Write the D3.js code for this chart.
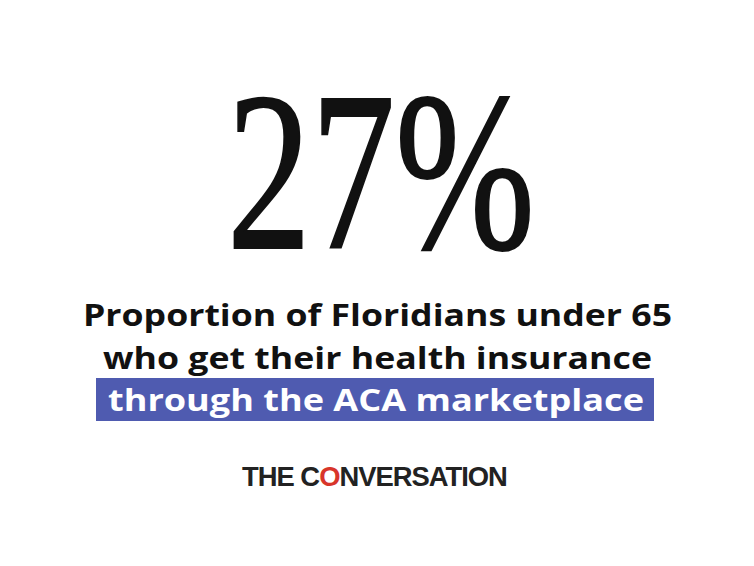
<!DOCTYPE html>
<html><head><meta charset="utf-8">
<script src="https://cdn.jsdelivr.net/npm/d3@7"></script>
<style>body{margin:0;background:#fff}</style>
</head><body>
<svg id="chart" width="754" height="566"></svg>
<script>
// headline stat
const statValue = [27]
const captionLines = ["Proportion of Floridians under 65", "who get their health insurance", "through the ACA marketplace"]
const highlightLine = [2]

const svg = d3.select("#chart")
svg.append("rect").attr("width", 754).attr("height", 566).attr("fill", "#fff")

svg.selectAll("text.stat").data(statValue).join("text")
  .attr("class", "stat")
  .attr("x", 227).attr("y", 248)
  .attr("textLength", 308).attr("lengthAdjust", "spacingAndGlyphs")
  .attr("font-family", "Liberation Serif, serif")
  .attr("font-size", 226)
  .attr("fill", "#111")
  .attr("stroke", "#111").attr("stroke-width", 2)
  .text(d => d + "%")

const y = d3.scalePoint().domain(d3.range(captionLines.length)).range([326, 411])
const spans = [[83, 672], [103, 652], [108, 644]]

svg.selectAll("rect.hl").data(highlightLine).join("rect")
  .attr("class", "hl")
  .attr("x", 96).attr("y", 378).attr("width", 558).attr("height", 43)
  .attr("fill", "#4f5bb0")

svg.selectAll("text.cap").data(captionLines).join("text")
  .attr("class", "cap")
  .attr("x", (d, i) => spans[i][0])
  .attr("y", (d, i) => y(i))
  .attr("textLength", (d, i) => spans[i][1] - spans[i][0])
  .attr("lengthAdjust", "spacingAndGlyphs")
  .attr("font-family", "Open Sans, sans-serif")
  .attr("font-weight", 700)
  .attr("font-size", 31)
  .attr("fill", (d, i) => highlightLine.includes(i) ? "#fff" : "#111")
  .text(d => d)

// logo: size the font so the word mark is ~266px wide
const logo = svg.append("text")
  .attr("x", 242).attr("y", 486)
  .attr("font-family", "Liberation Sans, Arial, sans-serif")
  .attr("font-weight", 700).attr("font-size", 29)
  .attr("letter-spacing", -1)
  .attr("fill", "#222")
logo.append("tspan").text("THE C")
logo.append("tspan").attr("fill", "#d8352a").text("O")
logo.append("tspan").text("NVERSATION")
const w = logo.node().getComputedTextLength()
logo.attr("font-size", 29 * 266 / w)
</script>
</body></html>
